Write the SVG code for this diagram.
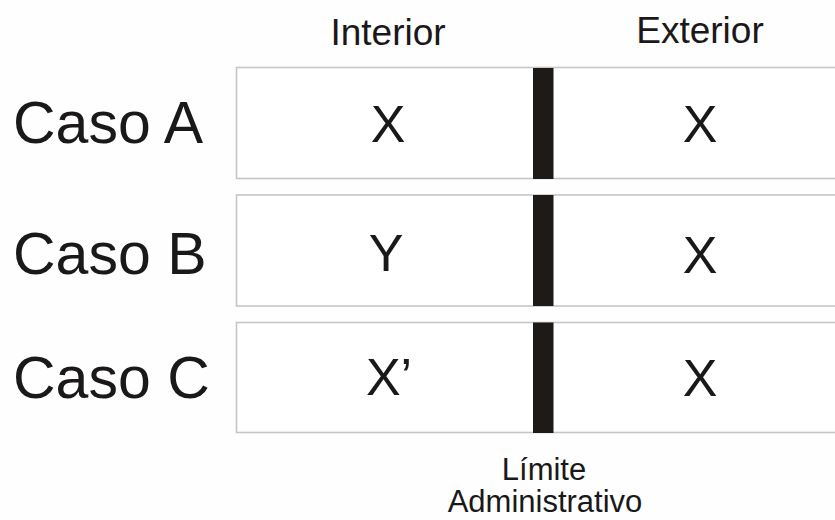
<svg xmlns="http://www.w3.org/2000/svg" width="835" height="520" viewBox="0 0 835 520">
  <style>
    text { font-family: "Liberation Sans", Arial, sans-serif; fill: #1a1818; }
    .head { font-size: 37px; text-anchor: middle; }
    .case { font-size: 59px; }
    .val { font-size: 52px; text-anchor: middle; }
    .note { font-size: 31px; text-anchor: middle; }
    .box { fill: #ffffff; stroke: #c6c6c6; stroke-width: 1.6; }
    .bar { fill: #1e1a17; }
  </style>
  <rect width="835" height="520" fill="#fefefe"/>

  <!-- column headings -->
  <text class="head" x="388" y="45">Interior</text>
  <text class="head" x="700" y="43">Exterior</text>

  <!-- row A -->
  <g id="caso-a">
    <rect class="box" x="236.5" y="67.5" width="620" height="111"/>
    <text class="case" x="13" y="143">Caso A</text>
    <text class="val" x="388" y="142">X</text>
    <text class="val" x="700" y="142">X</text>
  </g>

  <!-- row B -->
  <g id="caso-b">
    <rect class="box" x="236.5" y="195" width="620" height="111"/>
    <text class="case" x="13" y="274">Caso B</text>
    <text class="val" x="386" y="271">Y</text>
    <text class="val" x="700" y="273">X</text>
  </g>

  <!-- row C -->
  <g id="caso-c">
    <rect class="box" x="236.5" y="322.5" width="620" height="110"/>
    <text class="case" x="13" y="398">Caso C</text>
    <text class="val" x="389" y="395">X’</text>
    <text class="val" x="700" y="396">X</text>
  </g>

  <!-- administrative boundary -->
  <g id="limite">
    <rect class="bar" x="533" y="68" width="20.5" height="111"/>
    <rect class="bar" x="533" y="195" width="20.5" height="111"/>
    <rect class="bar" x="533" y="322.5" width="20.5" height="110.5"/>
    <text class="note" x="544" y="480">Límite</text>
    <text class="note" x="545" y="512">Administrativo</text>
  </g>
</svg>
